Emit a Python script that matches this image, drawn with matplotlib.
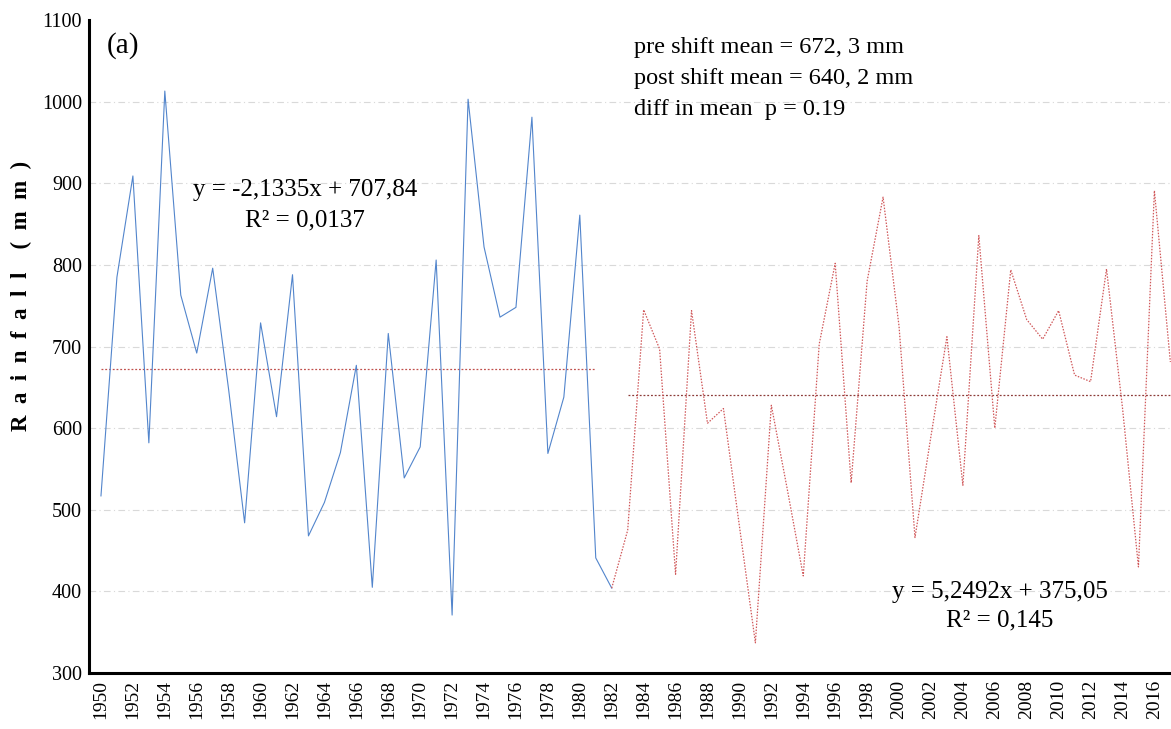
import matplotlib
matplotlib.use('Agg')
import matplotlib.pyplot as plt
import numpy as np

plt.rcParams['font.family'] = ['Liberation Serif', 'DejaVu Serif']

# rainfall (mm)
pre_years = list(range(1950, 1983))
pre_rain = [517, 785, 909, 582, 1013, 763, 692, 796, 647, 484,
            729, 614, 788, 468, 509, 570, 677, 405, 716, 539,
            577, 806, 371, 1003, 822, 736, 748, 981, 569, 638,
            861, 441, 404]

post_years = list(range(1982, 2018))
post_rain = [404, 475, 745, 697, 421, 744, 606, 624, 480, 337,
             628, 525, 419, 703, 802, 533, 780, 883, 725, 466,
             590, 712, 530, 836, 600, 794, 733, 709, 744, 665,
             657, 795, 625, 430, 891, 681]

pre_mean = 672.3
post_mean = 640.2
pre_mean_span = (1950, 1981)
post_mean_span = (1983, 2017)

yticks = list(range(300, 1101, 100))
xticks = list(range(1950, 2017, 2))

fig = plt.figure(figsize=(11.71, 7.29), dpi=100)
ax = fig.add_axes([0.076, 0.0768, 0.924, 0.8957])

ax.plot(pre_years, pre_rain, color='#5285cc', lw=0.8, zorder=3)
ax.plot(post_years, post_rain, color='#d0585a', lw=0.9, ls=(0, (1.2, 1.2)), zorder=3)

ax.hlines(pre_mean, *pre_mean_span, colors='#c0504d', lw=0.9, linestyles=(0, (1.5, 1.5)), zorder=2)
ax.hlines(post_mean, *post_mean_span, colors='#8c3b38', lw=0.9, linestyles=(0, (1.5, 1.5)), zorder=2)

ax.set_xlim(1949.25, 2017.04)
ax.set_ylim(300, 1100)
ax.set_yticks(yticks)
ax.set_xticks(xticks)
ax.set_xticklabels([str(y) for y in xticks], rotation=90, fontsize=14)
ax.tick_params(axis='y', labelsize=14.5, length=0, pad=5)
ax.tick_params(axis='x', length=0, pad=5)

ax.yaxis.grid(True, color='#d9d9d9', lw=0.8, ls=(0, (6, 3, 1, 3)))
ax.set_axisbelow(True)
ax.get_ygridlines()[-1].set_visible(False)

for s in ['top', 'right']:
    ax.spines[s].set_visible(False)
for s in ['left', 'bottom']:
    ax.spines[s].set_linewidth(2.2)
    ax.spines[s].set_color('black')

ax.set_ylabel('R  a  i  n  f  a  l  l    (  m  m  )', fontsize=16.5, fontweight='bold')
ax.yaxis.set_label_coords(-0.053, 0.577)

ax.text(0.0166, 0.9617, '(a)', transform=ax.transAxes, fontsize=21, va='center', ha='left')
ax.text(0.5037, 0.9587, 'pre shift mean = 672, 3 mm', transform=ax.transAxes, fontsize=17.5, va='center')
ax.text(0.5037, 0.9112, 'post shift mean = 640, 2 mm', transform=ax.transAxes, fontsize=17.5, va='center')
ax.text(0.5037, 0.8637, 'diff in mean  p = 0.19', transform=ax.transAxes, fontsize=17.5, va='center')

ax.text(0.1996, 0.7397, 'y = -2,1335x + 707,84', transform=ax.transAxes, fontsize=18, ha='center', va='center')
ax.text(0.1996, 0.6937, 'R² = 0,0137', transform=ax.transAxes, fontsize=18, ha='center', va='center')
ax.text(0.842, 0.124, 'y = 5,2492x + 375,05', transform=ax.transAxes, fontsize=18, ha='center', va='center')
ax.text(0.842, 0.0812, 'R² = 0,145', transform=ax.transAxes, fontsize=18, ha='center', va='center')

plt.savefig('out.png', dpi=100)
plt.close('all')
